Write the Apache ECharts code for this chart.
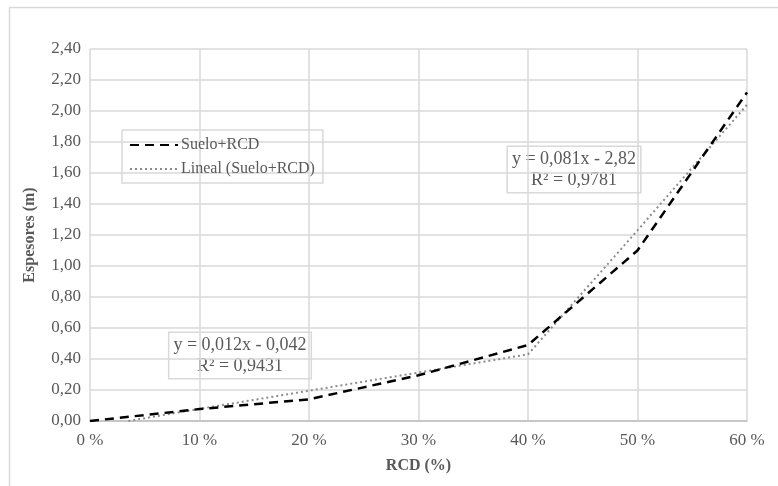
<!DOCTYPE html>
<html lang="es">
<head>
<meta charset="UTF-8">
<title>Espesores vs RCD</title>
<script src="https://cdn.jsdelivr.net/npm/echarts@6/dist/echarts.min.js"></script>
<style>
  html, body { margin: 0; padding: 0; background: #fff; }
  #main { width: 778px; height: 486px; }
</style>
</head>
<body>
<div id="main"></div>
<script type="text/javascript">
// datos
var rcd = [0, 10, 20, 30, 40, 50, 60];
var espesores = [0, 0.077, 0.14, 0.295, 0.49, 1.10, 2.12];
var trendX = [3.5, 10, 40, 50, 60];
var trendY = [0, 0.078, 0.43, 1.23, 2.04];
var seriesNames = ['Suelo+RCD', 'Lineal (Suelo+RCD)'];
var eq1 = ['y = 0,012x - 0,042', 'R² = 0,9431'];
var eq2 = ['y = 0,081x - 2,82', 'R² = 0,9781'];

function pares(xs, ys) {
    return xs.map(function (x, i) { return [x, ys[i]]; });
}

var font = 'Liberation Serif';
var gris = '#595959';

function cajaEcuacion(lineas, cx, top) {
    return {
        type: 'text',
        x: cx, y: top,
        style: {
            text: lineas.join('\n'),
            align: 'center',
            verticalAlign: 'top',
            font: '18px "Liberation Serif"',
            fill: gris,
            lineHeight: 21,
            backgroundColor: '#fff',
            borderColor: '#d9d9d9',
            borderWidth: 1.5,
            padding: [2, 4, 1, 4]
        }
    };
}

var myChart = echarts.init(document.getElementById('main'));
var option = {
    animation: false,
    textStyle: { fontFamily: font },
    grid: { left: 90, right: 31, top: 49, bottom: 65 },
    legend: {
        orient: 'vertical',
        left: 122,
        top: 130,
        itemWidth: 48,
        itemHeight: 10,
        itemGap: 8,
        padding: [7, 8, 6, 7],
        borderColor: '#d9d9d9',
        borderWidth: 1.5,
        itemStyle: { opacity: 0 },
        textStyle: { fontFamily: font, fontSize: 16, color: gris, padding: [0, 0, 0, -2] },
        data: seriesNames
    },
    xAxis: {
        type: 'value',
        min: 0,
        max: 60,
        interval: 10,
        name: 'RCD (%)',
        nameLocation: 'middle',
        nameGap: 37,
        nameTextStyle: { fontFamily: font, fontSize: 16, fontWeight: 'bold', color: gris },
        axisLine: { lineStyle: { color: '#bfbfbf', width: 1.5 } },
        axisTick: { show: false },
        axisLabel: {
            fontFamily: font, fontSize: 17, color: gris, margin: 11,
            formatter: function (v) { return v + ' %'; }
        },
        splitLine: { show: true, lineStyle: { color: '#d9d9d9', width: 1.5 } }
    },
    yAxis: {
        type: 'value',
        min: 0,
        max: 2.4,
        interval: 0.2,
        name: 'Espesores (m)',
        nameLocation: 'middle',
        nameGap: 52,
        nameTextStyle: { fontFamily: font, fontSize: 16, fontWeight: 'bold', color: gris },
        axisLine: { show: false },
        axisTick: { show: false },
        axisLabel: {
            fontFamily: font, fontSize: 17, color: gris, margin: 9,
            formatter: function (v) { return v.toFixed(2).replace('.', ','); }
        },
        splitLine: { lineStyle: { color: '#d9d9d9', width: 1.5 } }
    },
    series: [
        {
            name: seriesNames[1],
            type: 'line',
            data: pares(trendX, trendY),
            symbol: 'none',
            lineStyle: { color: '#8c8c8c', width: 2, type: [2, 3] },
            itemStyle: { color: '#8c8c8c' }
        },
        {
            name: seriesNames[0],
            type: 'line',
            data: pares(rcd, espesores),
            symbol: 'none',
            lineStyle: { color: '#000', width: 2.5, type: [9, 6] },
            itemStyle: { color: '#000' }
        }
    ],
    graphic: [
        {
            type: 'rect',
            left: 7, top: 5,
            shape: { width: 800, height: 500 },
            style: { fill: 'none', stroke: '#d9d9d9', lineWidth: 1.5 },
            silent: true
        },
        cajaEcuacion(eq1, 240, 333),
        cajaEcuacion(eq2, 574, 147)
    ]
};
myChart.setOption(option);
</script>
</body>
</html>
